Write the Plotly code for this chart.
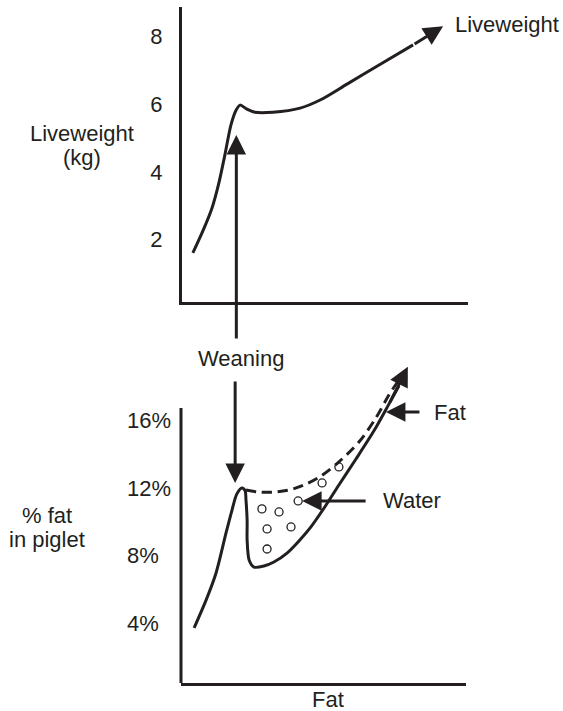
import plotly.graph_objects as go

INK = "#231f20"
FONT = "Liberation Sans, Arial, Helvetica, sans-serif"
FS = 22

# ---------------- data ----------------
# Top panel: liveweight (kg) over time (arbitrary units)
lw_time = [0.38, 0.73, 1.05, 1.29, 1.50, 1.71, 1.89, 2.03, 2.27, 2.55, 3.18, 4.13, 4.83, 5.77, 6.92, 8.08, 9.13]
lw_kg = [1.61, 2.26, 2.94, 3.68, 4.51, 5.39, 5.83, 5.98, 5.86, 5.77, 5.77, 5.89, 6.13, 6.60, 7.18, 7.76, 8.31]
lw_ticks = [2, 4, 6, 8]
lw_tick_text = ["2", "4", "6", "8"]

# Bottom panel: % fat in piglet (solid) and upper (dashed) boundary
fat_time = [0.46, 0.88, 1.23, 1.58, 1.79, 1.96, 2.14, 2.25, 2.28, 2.32, 2.32, 2.39, 2.56, 2.91,
            3.26, 3.72, 4.14, 4.56, 5.02, 5.54, 6.14, 6.77, 7.30, 7.65, 7.96]
fat_pct = [3.71, 5.36, 6.97, 9.34, 10.7, 11.66, 12.01, 11.84, 11.3, 10.1, 8.93, 7.74, 7.32, 7.38,
           7.62, 8.15, 8.87, 9.70, 10.82, 12.19, 13.73, 15.40, 17.00, 18.07, 19.2]
upper_time = [2.28, 2.74, 3.26, 3.79, 4.32, 4.91, 5.54, 6.25, 6.84, 7.30, 7.65, 7.96]
upper_pct = [11.89, 11.77, 11.77, 11.89, 12.19, 12.72, 13.56, 14.75, 16.17, 17.54, 18.43, 19.2]
water_dot_time = [2.84, 3.44, 3.02, 3.86, 3.02, 4.11, 4.95, 5.54]
water_dot_pct = [10.77, 10.59, 9.58, 9.70, 8.39, 11.24, 12.31, 13.26]
fat_ticks = [4, 8, 12, 16]
fat_tick_text = ["4%\u2007", "8%\u2007", "12%", "16%"]
fat_axis_top = 16.76

# Weaning marker (time) and arrow ends
weaning_time = 1.9
weaning_up_kg = [-0.96, 5.10]      # tail, head (top panel)
weaning_down_pct = [18.42, 12.31]  # tail, head (bottom panel)

# Pointer arrows in bottom panel: (tail_time, head_time, pct)
water_pointer = [6.53, 4.25, 11.24]
fat_pointer = [8.42, 7.19, 16.52]

# ---------------- layout helpers ----------------
W, H = 563, 711


def px(x):
    return min(max(x / W, 0.0), 1.0)


def py(y):
    return min(max(1 - y / H, 0.0), 1.0)


# ---------------- figure ----------------
fig = go.Figure()

fig.add_trace(go.Scatter(x=lw_time[:-1], y=lw_kg[:-1], mode="lines",
                         line=dict(color=INK, width=3, shape="spline", smoothing=0.8),
                         xaxis="x", yaxis="y", hoverinfo="skip"))
fig.add_trace(go.Scatter(x=fat_time[:-1], y=fat_pct[:-1], mode="lines",
                         line=dict(color=INK, width=3, shape="spline", smoothing=0.8),
                         xaxis="x2", yaxis="y2", hoverinfo="skip"))
fig.add_trace(go.Scatter(x=upper_time[:-1], y=upper_pct[:-1], mode="lines",
                         line=dict(color=INK, width=3, shape="spline", smoothing=0.9, dash="10px,6px"),
                         xaxis="x2", yaxis="y2", hoverinfo="skip"))
fig.add_trace(go.Scatter(x=water_dot_time, y=water_dot_pct, mode="markers",
                         marker=dict(symbol="circle-open", size=8, color=INK, line=dict(width=1.3, color=INK)),
                         xaxis="x2", yaxis="y2", hoverinfo="skip"))

arrow_common = dict(text="", showarrow=True, arrowhead=2, arrowsize=1.3, arrowwidth=3,
                    arrowcolor=INK, standoff=0, startstandoff=0)

annotations = [
    # liveweight curve arrowhead
    dict(x=lw_time[-1], y=lw_kg[-1], ax=lw_time[-2], ay=lw_kg[-2],
         xref="x", yref="y", axref="x", ayref="y", **arrow_common),
    # fat curve arrowhead
    dict(x=fat_time[-1], y=fat_pct[-1], ax=fat_time[-3], ay=fat_pct[-3],
         xref="x2", yref="y2", axref="x2", ayref="y2", **arrow_common),
    # weaning arrows
    dict(x=weaning_time, y=weaning_up_kg[1], ax=weaning_time, ay=weaning_up_kg[0],
         xref="x", yref="y", axref="x", ayref="y", **arrow_common),
    dict(x=weaning_time, y=weaning_down_pct[1], ax=weaning_time, ay=weaning_down_pct[0],
         xref="x2", yref="y2", axref="x2", ayref="y2", **arrow_common),
    # water & fat pointers
    dict(x=water_pointer[1], y=water_pointer[2], ax=water_pointer[0], ay=water_pointer[2],
         xref="x2", yref="y2", axref="x2", ayref="y2", **arrow_common),
    dict(x=fat_pointer[1], y=fat_pointer[2], ax=fat_pointer[0], ay=fat_pointer[2],
         xref="x2", yref="y2", axref="x2", ayref="y2", **arrow_common),
]


def label(text, x, y, xanchor="center"):
    return dict(text=text, x=px(x), y=py(y), xref="paper", yref="paper", showarrow=False,
                xanchor=xanchor, yanchor="middle", font=dict(family=FONT, size=FS, color=INK))


annotations += [
    label("Liveweight", 453, 25, "left"),
    label("Liveweight", 82, 133),
    label("(kg)", 82, 157),
    label("Weaning", 241, 358),
    label("Fat", 432, 412, "left"),
    label("Water", 381, 500, "left"),
    label("% fat", 47, 515),
    label("in piglet", 47, 539),
    label("Fat", 328, 699),
]

axis_common = dict(showgrid=False, zeroline=False, linecolor=INK, linewidth=3, fixedrange=True)

fig.update_layout(
    width=W, height=H,
    margin=dict(l=0, r=0, t=0, b=0),
    paper_bgcolor="white", plot_bgcolor="white",
    showlegend=False,
    font=dict(family=FONT, size=FS, color=INK),
    xaxis=dict(domain=[px(182), px(468)], range=[0, 10], anchor="y",
               showline=True, showticklabels=False, ticks="", **axis_common),
    yaxis=dict(domain=[py(302), py(7)], range=[0.16, 8.88], anchor="x",
               showline=True, tickvals=lw_ticks, ticktext=lw_tick_text, ticks="",
               ticklabelstandoff=12, tickfont=dict(family=FONT, size=FS, color=INK), **axis_common),
    xaxis2=dict(domain=[px(181), px(466)], range=[0, 10], anchor="y2",
                showline=True, showticklabels=False, ticks="", **axis_common),
    yaxis2=dict(domain=[py(683), py(355)], range=[0.44, 19.9], anchor="x2",
                showline=False, tickvals=fat_ticks, ticktext=fat_tick_text, ticks="",
                ticklabelstandoff=9, tickfont=dict(family=FONT, size=FS, color=INK), **axis_common),
    shapes=[dict(type="line", xref="x2 domain", yref="y2", x0=0, x1=0, y0=0.44, y1=fat_axis_top,
                 line=dict(color=INK, width=3))],
    annotations=annotations,
)

fig.write_html(
    "out.html",
    config={"displayModeBar": False},
    post_script=("document.documentElement.style.overflow='hidden';"
                 "document.body.style.margin='0';document.body.style.overflow='hidden';"),
)
